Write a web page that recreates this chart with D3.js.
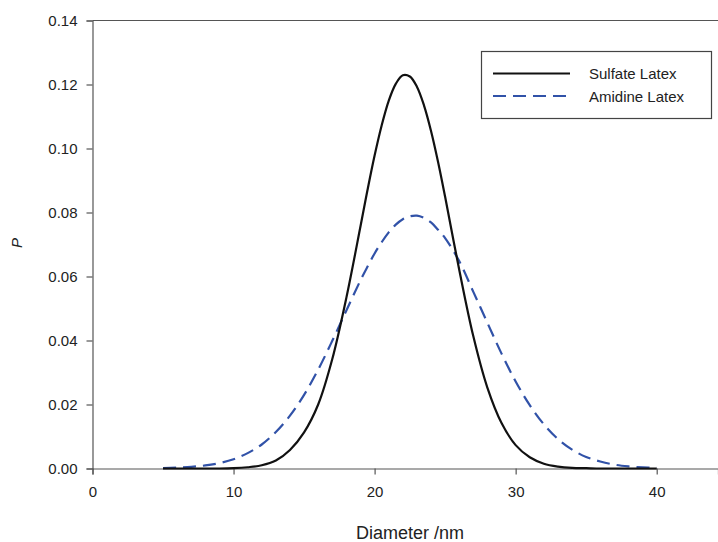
<!DOCTYPE html>
<html>
<head>
<meta charset="utf-8">
<title>Particle size distribution</title>
<script src="https://d3js.org/d3.v7.min.js"></script>
<style>
  body { margin: 0; background: #fff; }
  text { font-family: "Liberation Sans", Arial, sans-serif; fill: #222; }
</style>
</head>
<body>
<svg width="718" height="542"></svg>
<script>
// diameters (nm) and P values
var diameter = [5,6,7,8,9,10,11,12,13,14,15,16,17,18,19,19.5,20,20.5,21,21.5,22,22.5,23,23.5,24,24.5,25,26,27,28,29,30,31,32,33,34,35,36,37,38,39,40];
var sulfate = [0,0,0,0,0,0.0001,0.0004,0.0010,0.0025,0.0058,0.0113,0.0200,0.0342,0.0534,0.0757,0.0871,0.0978,0.1072,0.1149,0.1202,0.1229,0.1225,0.1193,0.1135,0.1055,0.0958,0.0849,0.0621,0.0413,0.0252,0.0142,0.0073,0.0035,0.0015,0.0006,0.0002,0.0001,0,0,0,0,0];
var amidine = [0.00014,0.00027,0.00052,0.00096,0.0017,0.0029,0.0048,0.0075,0.0114,0.0165,0.0230,0.0309,0.0399,0.0494,0.0588,0.0631,0.0672,0.0707,0.0738,0.0762,0.0779,0.0788,0.0790,0.0783,0.0769,0.0746,0.0720,0.0648,0.0552,0.0455,0.0359,0.0272,0.0198,0.0138,0.0092,0.0059,0.0036,0.0022,0.0012,0.00066,0.00035,0.00017];
var xTicks = [0,10,20,30,40];
var yTicks = [0,0.02,0.04,0.06,0.08,0.10,0.12,0.14];
var seriesNames = ["Sulfate Latex", "Amidine Latex"];

var svg = d3.select("svg");
var plotL = 92.5, plotR = 718, plotT = 20.5, plotB = 468.5;

var x = d3.scaleLinear().domain([0, (plotR - plotL) / 14.105]).range([plotL, plotR]);
var y = d3.scaleLinear().domain([0, 0.14]).range([plotB, plotT]);

// frame: top line
svg.append("line")
    .attr("x1", plotL).attr("x2", plotR)
    .attr("y1", plotT).attr("y2", plotT)
    .attr("stroke", "#555").attr("stroke-width", 1.2);

var xAxis = svg.append("g")
    .attr("transform", "translate(0," + plotB + ")")
    .call(d3.axisBottom(x).tickValues(xTicks).tickSize(6).tickPadding(8).tickFormat(d3.format("d")));
var yAxis = svg.append("g")
    .attr("transform", "translate(" + plotL + ",0)")
    .call(d3.axisLeft(y).tickValues(yTicks).tickSize(6).tickPadding(9).tickFormat(d3.format(".2f")));

[xAxis, yAxis].forEach(function(a) {
  a.select(".domain").attr("stroke", "#555").attr("stroke-width", 1.2);
  a.selectAll(".tick line").attr("stroke", "#555").attr("stroke-width", 1.2);
  a.selectAll("text").attr("font-size", 15).attr("fill", "#222")
    .attr("font-family", "Liberation Sans, Arial, sans-serif");
});
xAxis.selectAll("text").attr("dy", "0.95em");

var line = d3.line()
    .x(function(d) { return x(d[0]); })
    .y(function(d) { return y(d[1]); })
    .curve(d3.curveCatmullRom.alpha(0.5));

svg.append("path")
    .datum(d3.zip(diameter, amidine))
    .attr("fill", "none")
    .attr("stroke", "#3152a8")
    .attr("stroke-width", 2.2)
    .attr("stroke-dasharray", "13,7")
    .attr("d", line);

svg.append("path")
    .datum(d3.zip(diameter, sulfate))
    .attr("fill", "none")
    .attr("stroke", "#111")
    .attr("stroke-width", 2.2)
    .attr("d", line);

// axis titles
svg.append("text")
    .attr("x", 410).attr("y", 539)
    .attr("text-anchor", "middle")
    .attr("font-size", 18)
    .text("Diameter /nm");

svg.append("text")
    .attr("transform", "translate(22,243) rotate(-90)")
    .attr("text-anchor", "middle")
    .attr("font-size", 15)
    .attr("font-style", "italic")
    .text("P");

// legend
var lg = svg.append("g");
lg.append("rect")
    .attr("x", 481.5).attr("y", 51.5)
    .attr("width", 230).attr("height", 67)
    .attr("fill", "#fff").attr("stroke", "#444").attr("stroke-width", 1.2);

var styles = [{stroke: "#111", dash: null}, {stroke: "#3152a8", dash: "13,7"}];
seriesNames.forEach(function(name, i) {
  var yy = 73.5 + i * 22.5;
  lg.append("line")
      .attr("x1", 493).attr("x2", 570)
      .attr("y1", yy).attr("y2", yy)
      .attr("stroke", styles[i].stroke)
      .attr("stroke-width", 2.2)
      .attr("stroke-dasharray", styles[i].dash);
  lg.append("text")
      .attr("x", 589).attr("y", yy + 5.5)
      .attr("font-size", 15)
      .text(name);
});
</script>
</body>
</html>
